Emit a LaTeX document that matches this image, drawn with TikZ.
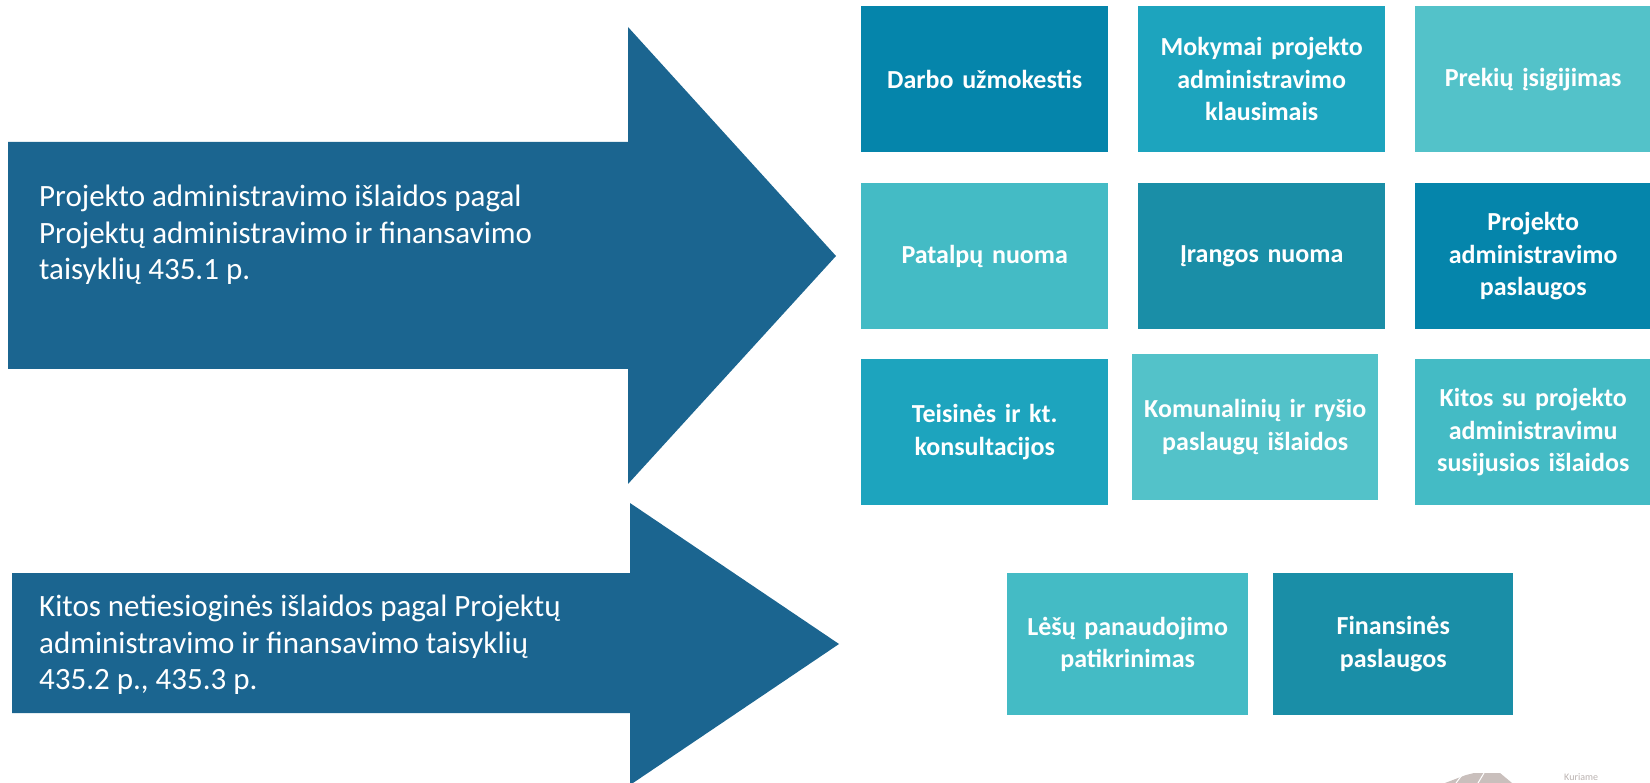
\documentclass[tikz,border=0pt]{standalone}
\usepackage{fontspec}
\setmainfont{Carlito}
\definecolor{arrowblue}{HTML}{1B6590}
\definecolor{cA}{HTML}{0585AB}
\definecolor{cB}{HTML}{1DA4BE}
\definecolor{cC}{HTML}{53C2C9}
\definecolor{cD}{HTML}{44BBC5}
\definecolor{cE}{HTML}{1A8EA7}
\definecolor{logogray}{HTML}{C9BFBC}
\tikzset{
  tile/.style={draw=none, text=white, font=\fontsize{26}{32.5}\selectfont\bfseries, align=center, inner sep=0pt, anchor=north west},
  arrowtext/.style={text=white, font=\fontsize{31}{36.5}\selectfont, align=left, anchor=west, inner sep=0pt},
}
\begin{document}
\begin{tikzpicture}[x=1pt,y=-1pt]
\useasboundingbox (0,0) rectangle (1650,783);
% arrows
\fill[arrowblue] (8,142) -- (628,142) -- (628,27) -- (836,256) -- (628,484) -- (628,369) -- (8,369) -- cycle;
\node[arrowtext] (t1) at (39,235) {Projekto administravimo išlaidos pagal\\Projektų administravimo ir finansavimo\\taisyklių 435.1 p.};
\fill[arrowblue] (12,573) -- (630,573) -- (630,503) -- (839,644) -- (630,785) -- (630,713) -- (12,713) -- cycle;
\node[arrowtext] (t2) at (39,645) {Kitos netiesioginės išlaidos pagal Projektų\\administravimo ir finansavimo taisyklių\\435.2 p., 435.3 p.};
% row 1
\node[tile, fill=cA, minimum width=247, minimum height=146, text width=240] (b1) at (861,6) {Darbo užmokestis};
\node[tile, fill=cB, minimum width=247, minimum height=146, text width=240] (b2) at (1138,6) {Mokymai projekto\\administravimo\\klausimais};
\node[tile, fill=cC, minimum width=236, minimum height=146, text width=230] (b3) at (1415,6) {Prekių įsigijimas};
% row 2
\node[tile, fill=cD, minimum width=247, minimum height=146, text width=240] (b4) at (861,183) {Patalpų nuoma};
\node[tile, fill=cE, minimum width=247, minimum height=146, text width=240] (b5) at (1138,183) {Įrangos nuoma};
\node[tile, fill=cA, minimum width=236, minimum height=146, text width=230] (b6) at (1415,183) {Projekto\\administravimo\\paslaugos};
% row 3
\node[tile, fill=cB, minimum width=247, minimum height=146, text width=240] (b7) at (861,359) {Teisinės ir kt.\\konsultacijos};
\node[tile, fill=cC, minimum width=246, minimum height=146, text width=240] (b8) at (1132,354) {Komunalinių ir ryšio\\paslaugų išlaidos};
\node[tile, fill=cD, minimum width=236, minimum height=146, text width=230] (b9) at (1415,359) {Kitos su projekto\\administravimu\\susijusios išlaidos};
% row 4
\node[tile, fill=cD, minimum width=241, minimum height=142, text width=236] (b10) at (1007,573) {Lėšų panaudojimo\\patikrinimas};
\node[tile, fill=cE, minimum width=240, minimum height=142, text width=236] (b11) at (1273,573) {Finansinės\\paslaugos};
% logo fragment
\fill[logogray] (1445,783) -- (1466,775) -- (1474,773) -- (1500,773) -- (1512,783) -- cycle;
\draw[white, line width=1pt] (1456,783) -- (1462,775);
\draw[white, line width=1pt] (1478,783) -- (1484,773);
\node[text=logogray!80!gray, font=\fontsize{10}{12}\selectfont, anchor=west, inner sep=0pt] (logo) at (1564,777) {Kuriame};
\end{tikzpicture}
\end{document}
